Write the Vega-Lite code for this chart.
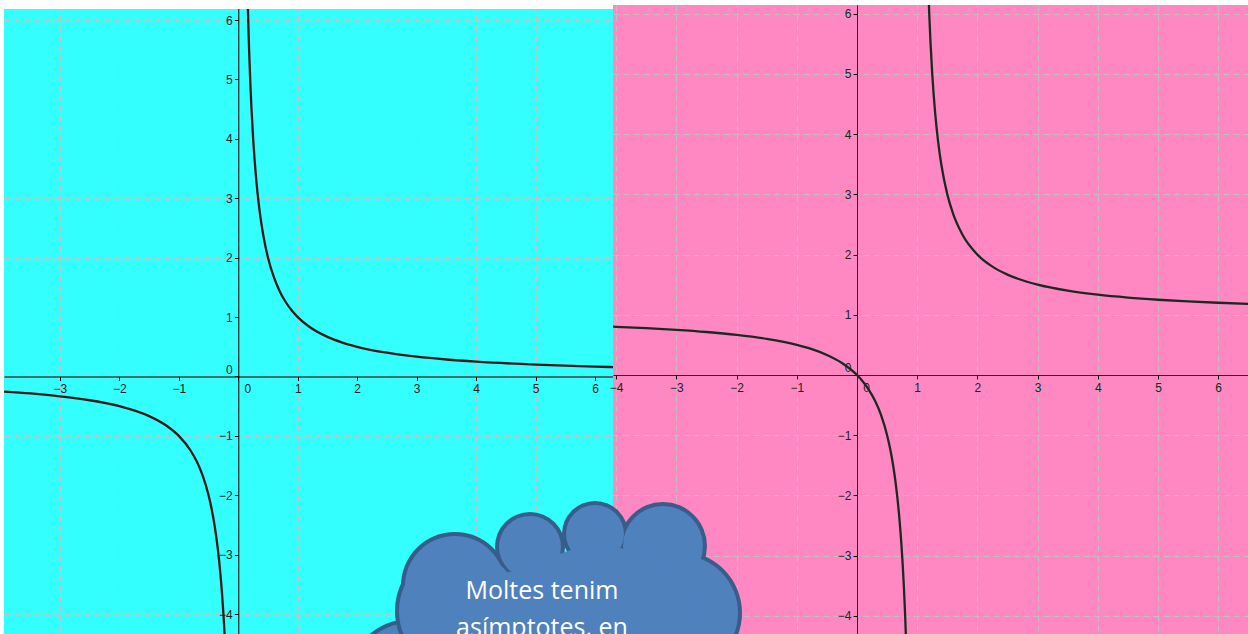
{
  "$schema": "https://vega.github.io/schema/vega-lite/v6.json",
  "background": "white",
  "padding": {"left": 4, "top": 4, "right": 0, "bottom": 0},
  "autosize": {"type": "pad"},
  "bounds": "flush",
  "spacing": 0,
  "config": {
    "view": {"stroke": null},
    "axis": {
      "grid": true,
      "gridColor": "#c0c0c0",
      "gridDash": [6, 4],
      "gridWidth": 1,
      "domainColor": "#111111",
      "tickColor": "#111111",
      "tickSize": 4,
      "labelPadding": 3,
      "labelFont": "Liberation Sans",
      "labelFontSize": 12,
      "labelColor": "#222222",
      "labelFlush": false,
      "labelOverlap": false,
      "labelBound": false
    }
  },
  "datasets": {
    "f1": [
      {"x": -4, "y": -0.25, "b": "n"}, {"x": -3.5, "y": -0.2857, "b": "n"}, {"x": -3, "y": -0.3333, "b": "n"},
      {"x": -2.5, "y": -0.4, "b": "n"}, {"x": -2, "y": -0.5, "b": "n"}, {"x": -1.5, "y": -0.6667, "b": "n"},
      {"x": -1.2, "y": -0.8333, "b": "n"}, {"x": -1, "y": -1, "b": "n"}, {"x": -0.8, "y": -1.25, "b": "n"},
      {"x": -0.7, "y": -1.4286, "b": "n"}, {"x": -0.6, "y": -1.6667, "b": "n"}, {"x": -0.5, "y": -2, "b": "n"},
      {"x": -0.45, "y": -2.2222, "b": "n"}, {"x": -0.4, "y": -2.5, "b": "n"}, {"x": -0.35, "y": -2.8571, "b": "n"},
      {"x": -0.3, "y": -3.3333, "b": "n"}, {"x": -0.27, "y": -3.7037, "b": "n"}, {"x": -0.25, "y": -4, "b": "n"},
      {"x": -0.23, "y": -4.3478, "b": "n"}, {"x": -0.21, "y": -4.7619, "b": "n"},
      {"x": 0.15, "y": 6.6667, "b": "p"}, {"x": 0.16, "y": 6.25, "b": "p"}, {"x": 0.18, "y": 5.5556, "b": "p"},
      {"x": 0.2, "y": 5, "b": "p"}, {"x": 0.22, "y": 4.5455, "b": "p"}, {"x": 0.25, "y": 4, "b": "p"},
      {"x": 0.3, "y": 3.3333, "b": "p"}, {"x": 0.35, "y": 2.8571, "b": "p"}, {"x": 0.4, "y": 2.5, "b": "p"},
      {"x": 0.45, "y": 2.2222, "b": "p"}, {"x": 0.5, "y": 2, "b": "p"}, {"x": 0.6, "y": 1.6667, "b": "p"},
      {"x": 0.7, "y": 1.4286, "b": "p"}, {"x": 0.8, "y": 1.25, "b": "p"}, {"x": 0.9, "y": 1.1111, "b": "p"},
      {"x": 1, "y": 1, "b": "p"}, {"x": 1.2, "y": 0.8333, "b": "p"}, {"x": 1.5, "y": 0.6667, "b": "p"},
      {"x": 1.75, "y": 0.5714, "b": "p"}, {"x": 2, "y": 0.5, "b": "p"}, {"x": 2.5, "y": 0.4, "b": "p"},
      {"x": 3, "y": 0.3333, "b": "p"}, {"x": 3.5, "y": 0.2857, "b": "p"}, {"x": 4, "y": 0.25, "b": "p"},
      {"x": 5, "y": 0.2, "b": "p"}, {"x": 6, "y": 0.1667, "b": "p"}, {"x": 6.5, "y": 0.1538, "b": "p"}
    ],
    "f2": [
      {"x": -4.2, "y": 0.8077, "b": "n"}, {"x": -4, "y": 0.8, "b": "n"}, {"x": -3.5, "y": 0.7778, "b": "n"},
      {"x": -3, "y": 0.75, "b": "n"}, {"x": -2.5, "y": 0.7143, "b": "n"}, {"x": -2, "y": 0.6667, "b": "n"},
      {"x": -1.5, "y": 0.6, "b": "n"}, {"x": -1, "y": 0.5, "b": "n"}, {"x": -0.75, "y": 0.4286, "b": "n"},
      {"x": -0.5, "y": 0.3333, "b": "n"}, {"x": -0.25, "y": 0.2, "b": "n"}, {"x": 0, "y": 0, "b": "n"},
      {"x": 0.1, "y": -0.1111, "b": "n"}, {"x": 0.2, "y": -0.25, "b": "n"}, {"x": 0.3, "y": -0.4286, "b": "n"},
      {"x": 0.4, "y": -0.6667, "b": "n"}, {"x": 0.5, "y": -1, "b": "n"}, {"x": 0.55, "y": -1.2222, "b": "n"},
      {"x": 0.6, "y": -1.5, "b": "n"}, {"x": 0.65, "y": -1.8571, "b": "n"}, {"x": 0.7, "y": -2.3333, "b": "n"},
      {"x": 0.72, "y": -2.5714, "b": "n"}, {"x": 0.74, "y": -2.8462, "b": "n"}, {"x": 0.76, "y": -3.1667, "b": "n"},
      {"x": 0.78, "y": -3.5455, "b": "n"}, {"x": 0.8, "y": -4, "b": "n"}, {"x": 0.82, "y": -4.5556, "b": "n"},
      {"x": 0.83, "y": -4.8824, "b": "n"},
      {"x": 1.18, "y": 6.5556, "b": "p"}, {"x": 1.2, "y": 6, "b": "p"}, {"x": 1.22, "y": 5.5455, "b": "p"},
      {"x": 1.25, "y": 5, "b": "p"}, {"x": 1.3, "y": 4.3333, "b": "p"}, {"x": 1.35, "y": 3.8571, "b": "p"},
      {"x": 1.4, "y": 3.5, "b": "p"}, {"x": 1.5, "y": 3, "b": "p"}, {"x": 1.6, "y": 2.6667, "b": "p"},
      {"x": 1.75, "y": 2.3333, "b": "p"}, {"x": 2, "y": 2, "b": "p"}, {"x": 2.25, "y": 1.8, "b": "p"},
      {"x": 2.5, "y": 1.6667, "b": "p"}, {"x": 3, "y": 1.5, "b": "p"}, {"x": 3.5, "y": 1.4, "b": "p"},
      {"x": 4, "y": 1.3333, "b": "p"}, {"x": 4.5, "y": 1.2857, "b": "p"}, {"x": 5, "y": 1.25, "b": "p"},
      {"x": 5.5, "y": 1.2222, "b": "p"}, {"x": 6, "y": 1.2, "b": "p"}, {"x": 6.6, "y": 1.1786, "b": "p"}
    ],
    "strip": [{"x": -3.941, "x2": 6.303, "y": 6.187, "y2": 6.26}],
    "bubble": [{"x": -7.425, "y": -5.083, "part": "bubble"}],
    "cloud": [
      {"x": -6.595, "y": -3.92, "part": "A1"},
      {"x": -6.678, "y": -3.505, "part": "A2"},
      {"x": -5.432, "y": -2.857, "part": "B"},
      {"x": -4.352, "y": -2.641, "part": "C"},
      {"x": -3.223, "y": -2.841, "part": "D"},
      {"x": -2.94, "y": -3.953, "part": "E"},
      {"x": -4.269, "y": -4.585, "part": "I1"},
      {"x": -5.598, "y": -4.252, "part": "I2"}
    ],
    "label": [{"x": -5.233, "y": -3.721, "t": "Moltes tenim\nasímptotes, en"}]
  },
  "hconcat": [
    {
      "width": 609,
      "height": 630,
      "view": {"fill": "#33ffff", "stroke": null},
      "encoding": {
        "x": {
          "field": "x", "type": "quantitative",
          "scale": {"domain": [-3.941, 6.303], "nice": false, "zero": false},
          "axis": {
            "title": null,
            "values": [-3, -2, -1, 0, 1, 2, 3, 4, 5, 6],
            "offset": -258.5,
            "domainColor": "#000000",
            "labelOffset": {"condition": {"test": "datum.value === 0", "value": 9}, "value": 0}
          }
        },
        "y": {
          "field": "y", "type": "quantitative",
          "scale": {"domain": [-4.352, 6.254], "nice": false, "zero": false},
          "axis": {
            "title": null,
            "values": [-4, -3, -2, -1, 0, 1, 2, 3, 4, 5, 6],
            "offset": -234.3,
            "labelPadding": 2,
            "domainColor": "#000000",
            "labelOffset": {"condition": {"test": "datum.value === 0", "value": -7}, "value": 0}
          }
        }
      },
      "layer": [
        {
          "data": {"name": "f1"},
          "mark": {"type": "line", "clip": true, "color": "#3a1818", "strokeWidth": 2.3, "interpolate": "monotone"},
          "encoding": {"detail": {"field": "b"}}
        },
        {
          "data": {"name": "strip"},
          "mark": {"type": "rect", "color": "white", "clip": false},
          "encoding": {
            "x2": {"field": "x2"},
            "y2": {"field": "y2"}
          }
        }
      ]
    },
    {
      "width": 635,
      "height": 630,
      "view": {"fill": "#ff88c2", "stroke": null},
      "resolve": {"scale": {"size": "independent"}, "legend": {"size": "independent"}},
      "encoding": {
        "x": {
          "field": "x", "type": "quantitative",
          "scale": {"domain": [-4.053, 6.495], "nice": false, "zero": false},
          "axis": {
            "title": null,
            "values": [-4, -3, -2, -1, 0, 1, 2, 3, 4, 5, 6],
            "offset": -260,
            "domainColor": "#2a1520",
            "labelOffset": {"condition": {"test": "datum.value === 0", "value": 9}, "value": 0}
          }
        },
        "y": {
          "field": "y", "type": "quantitative",
          "scale": {"domain": [-4.319, 6.146], "nice": false, "zero": false},
          "axis": {
            "title": null,
            "values": [-4, -3, -2, -1, 0, 1, 2, 3, 4, 5, 6],
            "offset": -244,
            "labelPadding": 2,
            "domainColor": "#2a1520",
            "labelOffset": {"condition": {"test": "datum.value === 0", "value": -7}, "value": 0}
          }
        }
      },
      "layer": [
        {
          "data": {"name": "f2"},
          "mark": {"type": "line", "clip": true, "color": "#1a2a22", "strokeWidth": 2.3, "interpolate": "monotone"},
          "encoding": {"detail": {"field": "b"}}
        },
        {
          "data": {"name": "bubble"},
          "mark": {"type": "point", "shape": "circle", "filled": true, "opacity": 1, "strokeWidth": 0, "color": "#385d8a", "clip": false, "size": 15376}
        },
        {
          "data": {"name": "bubble"},
          "mark": {"type": "point", "shape": "circle", "filled": true, "opacity": 1, "strokeWidth": 0, "color": "#4f81bd", "clip": false, "size": 13456}
        },
        {
          "data": {"name": "cloud"},
          "mark": {"type": "point", "shape": "circle", "filled": true, "opacity": 1, "strokeWidth": 0, "color": "#385d8a", "clip": false},
          "encoding": {
            "size": {
              "field": "part", "type": "nominal", "legend": null,
              "scale": {"type": "ordinal", "domain": ["A1", "A2", "B", "C", "D", "E", "I1", "I2"], "range": [16900, 11664, 4900, 4356, 7744, 15376, 0, 0]}
            }
          }
        },
        {
          "data": {"name": "cloud"},
          "mark": {"type": "point", "shape": "circle", "filled": true, "opacity": 1, "strokeWidth": 0, "color": "#4f81bd", "clip": false},
          "encoding": {
            "size": {
              "field": "part", "type": "nominal", "legend": null,
              "scale": {"type": "ordinal", "domain": ["A1", "A2", "B", "C", "D", "E", "I1", "I2"], "range": [14884, 10000, 3844, 3364, 6400, 13456, 44100, 14400]}
            }
          }
        },
        {
          "data": {"name": "label"},
          "mark": {"type": "text", "clip": false, "color": "white", "font": "Open Sans", "fontSize": 25, "align": "center", "baseline": "alphabetic", "lineBreak": "\n", "lineHeight": 37},
          "encoding": {
            "text": {"field": "t"}
          }
        }
      ]
    }
  ]
}
